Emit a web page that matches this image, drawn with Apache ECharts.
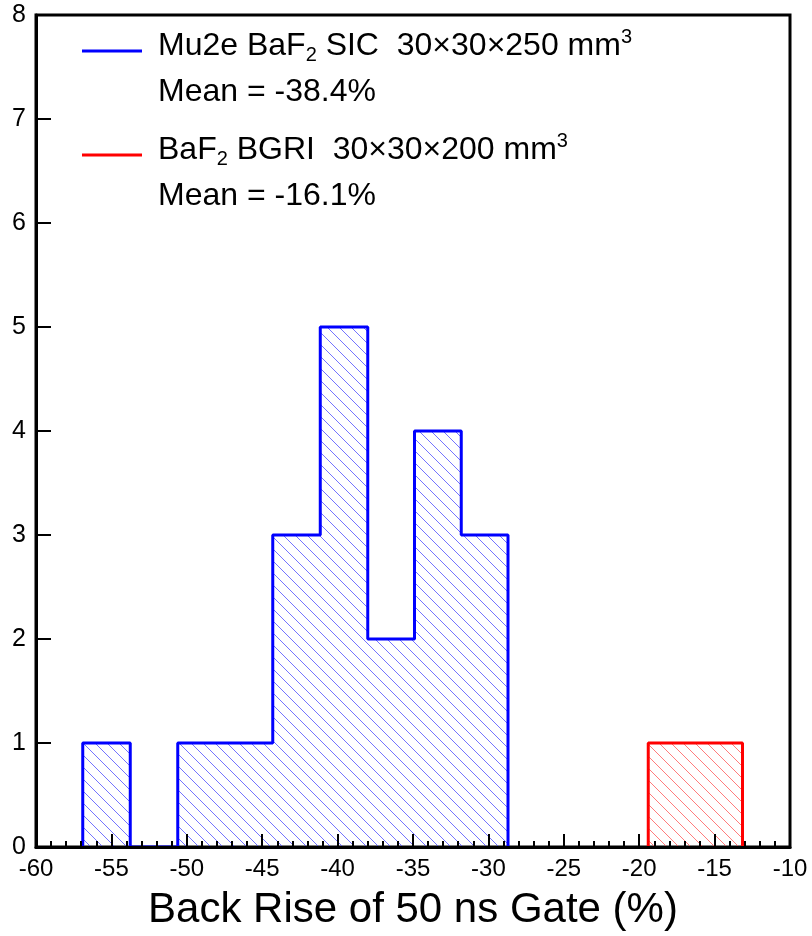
<!DOCTYPE html>
<html>
<head>
<meta charset="utf-8">
<script src="https://cdn.jsdelivr.net/npm/echarts@6/dist/echarts.min.js"></script>
<style>
html,body{margin:0;padding:0;background:#fff;}
#chart{width:812px;height:936px;}
</style>
</head>
<body>
<div id="chart"></div>
<script>
// ---- data ----
const blueEdges = [-56.9, -53.75, -50.6, -47.45, -44.3, -41.15, -38.0, -34.9, -31.8, -28.7];
const blueCounts = [1, 0, 1, 1, 3, 5, 2, 4, 3];
const redEdges = [-19.4, -16.3, -13.15];
const redCounts = [1, 1];
const xTicks = [-60, -55, -50, -45, -40, -35, -30, -25, -20, -15, -10];
const yTicks = [0, 1, 2, 3, 4, 5, 6, 7, 8];
const blueLabel = ['Mu2e BaF', '2', ' SIC  30×30×250 mm', '3'];
const blueMean = 'Mean = -38.4%';
const redLabel = ['BaF', '2', ' BGRI  30×30×200 mm', '3'];
const redMean = 'Mean = -16.1%';
const xTitle = 'Back Rise of 50 ns Gate (%)';

function stepPoints(edges, counts) {
  const pts = [[edges[0], 0]];
  for (let i = 0; i < counts.length; i++) pts.push([edges[i], counts[i]]);
  pts.push([edges[edges.length - 1], 0]);
  return pts;
}

function hatch(color) {
  const s = 12;
  const c = document.createElement('canvas');
  c.width = s; c.height = s;
  const g = c.getContext('2d');
  g.strokeStyle = color;
  g.lineWidth = 1;
  for (let k = -1; k <= 1; k++) {
    g.beginPath();
    g.moveTo(k * s - 1, -1);
    g.lineTo(k * s + s + 1, s + 1);
    g.stroke();
  }
  return {image: c, repeat: 'repeat'};
}

const FONT = 'Liberation Sans';
const chart = echarts.init(document.getElementById('chart'), null, {renderer: 'canvas'});

function legendText(parts, top) {
  return {
    type: 'text', left: 158, top: top, z: 20,
    style: {
      text: '{t|' + parts[0] + '}{sub|' + parts[1] + '}{t|' + parts[2] + '}{sup|' + parts[3] + '}',
      rich: {
        t: {fontSize: 32, fontFamily: FONT, lineHeight: 38, fill: '#000'},
        sub: {fontSize: 20, fontFamily: FONT, lineHeight: 11, verticalAlign: 'bottom', fill: '#000'},
        sup: {fontSize: 20, fontFamily: FONT, lineHeight: 18, verticalAlign: 'top', fill: '#000'}
      }
    }
  };
}
function meanText(txt, top) {
  return {type: 'text', left: 158, top: top, z: 20,
    style: {text: txt, fontSize: 32, fontFamily: FONT, fill: '#000', lineHeight: 38}};
}

chart.setOption({
  animation: false,
  backgroundColor: '#fff',
  grid: {left: 36, top: 15, width: 754, height: 833, show: true, borderColor: '#000', borderWidth: 3},
  xAxis: {
    type: 'value', min: xTicks[0], max: xTicks[xTicks.length - 1], interval: 5, z: 10,
    axisLine: {show: true, lineStyle: {color: '#000', width: 3}},
    axisTick: {show: true, inside: true, length: 13, lineStyle: {color: '#000', width: 2}},
    minorTick: {show: true, splitNumber: 5, length: 6, lineStyle: {color: '#000', width: 2}},
    splitLine: {show: false},
    axisLabel: {
      margin: 10,
      formatter: function (v) { return '{a|' + v + '}'; },
      rich: {a: {fontSize: 24, fontFamily: FONT, color: '#000'}}
    },
    name: xTitle, nameLocation: 'middle', nameGap: 63, nameMoveOverlap: false,
    nameTextStyle: {fontSize: 42, fontFamily: FONT, color: '#000', verticalAlign: 'middle'}
  },
  yAxis: {
    type: 'value', min: yTicks[0], max: yTicks[yTicks.length - 1], interval: 1, z: 10,
    axisLine: {show: true, lineStyle: {color: '#000', width: 3}},
    axisTick: {show: true, inside: true, length: 15, lineStyle: {color: '#000', width: 2}},
    splitLine: {show: false},
    axisLabel: {
      margin: 10,
      formatter: function (v) { return '{a|' + v + '}'; },
      rich: {a: {fontSize: 25, fontFamily: FONT, color: '#000'}}
    }
  },
  series: [
    {
      type: 'line', name: 'blue', step: 'end', showSymbol: false, z: 3,
      data: stepPoints(blueEdges, blueCounts),
      lineStyle: {color: '#0000ff', width: 3},
      areaStyle: {color: hatch('rgba(70,70,255,0.75)'), opacity: 1}
    },
    {
      type: 'line', name: 'red', step: 'end', showSymbol: false, z: 3,
      data: stepPoints(redEdges, redCounts),
      lineStyle: {color: '#ff0000', width: 3},
      areaStyle: {color: hatch('rgba(255,80,80,0.75)'), opacity: 1}
    }
  ],
  graphic: [
    {type: 'line', z: 20, shape: {x1: 82, y1: 51, x2: 142, y2: 51}, style: {stroke: '#0000ff', lineWidth: 3}},
    legendText(blueLabel, 27.5),
    meanText(blueMean, 73),
    {type: 'line', z: 20, shape: {x1: 82, y1: 155, x2: 142, y2: 155}, style: {stroke: '#ff0000', lineWidth: 3}},
    legendText(redLabel, 131.5),
    meanText(redMean, 177)
  ]
});
</script>
</body>
</html>
